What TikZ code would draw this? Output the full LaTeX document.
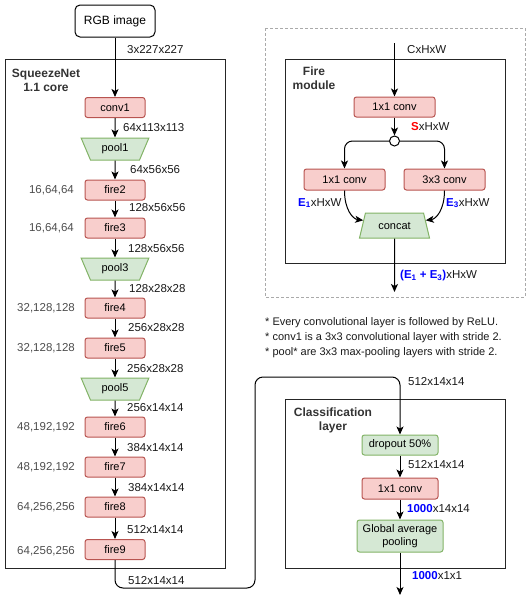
\documentclass[tikz,border=0pt]{standalone}
\usepackage{fontspec}
\setmainfont{Liberation Sans}
\usetikzlibrary{arrows.meta,shapes.geometric,calc}
\definecolor{redfill}{HTML}{F8CECC}
\definecolor{redline}{HTML}{B85450}
\definecolor{greenfill}{HTML}{D5E8D4}
\definecolor{greenline}{HTML}{82B366}
\definecolor{bluetxt}{HTML}{0000FF}
\definecolor{redtxt}{HTML}{FF0000}
\definecolor{titlegray}{HTML}{333333}
\definecolor{sidegray}{HTML}{4D4D4D}
\definecolor{dashgray}{HTML}{AAAAAA}
\begin{document}
\begin{tikzpicture}[x=1pt,y=-1pt,
  font=\fontsize{11}{12}\selectfont,
  redbox/.style={draw=redline, fill=redfill, line width=1pt, rounded corners=2.5pt,
    minimum width=60pt, minimum height=20pt, inner sep=0pt},
  greenbox/.style={draw=greenline, fill=greenfill, line width=1pt, rounded corners=2.5pt,
    minimum width=76pt, minimum height=20pt, inner sep=0pt, align=center},
  pooltrap/.style={trapezium, draw=greenline, fill=greenfill, line width=1pt,
    trapezium stretches=true, minimum width=68pt, minimum height=22pt,
    trapezium angle=63.4, shape border rotate=180, inner sep=0pt},
  cattrap/.style={trapezium, draw=greenline, fill=greenfill, line width=1pt,
    trapezium stretches=true, minimum width=70pt, minimum height=25pt,
    trapezium angle=65.3, inner sep=0pt},
  frame/.style={draw=black!85, line width=1pt},
  arr/.style={draw=black, line width=1pt, -{Stealth[length=8pt,width=7pt,inset=2pt]}},
  lbl/.style={anchor=west, inner sep=0pt, font=\fontsize{11.5}{13}\selectfont, text=black!90},
  side/.style={anchor=east, inner sep=0pt, font=\fontsize{11.5}{13}\selectfont, text=sidegray},
  ttl/.style={inner sep=0pt, align=center, font=\fontsize{12}{14}\selectfont\bfseries, text=titlegray},
]
\useasboundingbox (0,0) rectangle (530,600);

% ---------------- SqueezeNet core ----------------
\node[draw=black, line width=1pt, rounded corners=5pt, minimum width=80pt, minimum height=32pt, inner sep=0pt,
  font=\fontsize{12}{13}\selectfont] (rgb) at (115,21) {RGB image};
\draw[frame] (5,59) rectangle (225,568);
\node[ttl] (sqtitle) at (46,80) {SqueezeNet\\1.1 core};

\node[redbox] (conv1) at (115,107.5) {conv1};
\node[pooltrap] (pool1) at (115,149) {pool1};
\node[redbox] (fire2) at (115,190) {fire2};
\node[redbox] (fire3) at (115,228) {fire3};
\node[pooltrap] (pool3) at (115,269) {pool3};
\node[redbox] (fire4) at (115,308) {fire4};
\node[redbox] (fire5) at (115,348) {fire5};
\node[pooltrap] (pool5) at (115,389) {pool5};
\node[redbox] (fire6) at (115,427) {fire6};
\node[redbox] (fire7) at (115,467) {fire7};
\node[redbox] (fire8) at (115,507) {fire8};
\node[redbox] (fire9) at (115,549.5) {fire9};

\draw[arr] (rgb) -- (conv1);
\draw[arr] (conv1) -- (pool1);
\draw[arr] (pool1) -- (fire2);
\draw[arr] (fire2) -- (fire3);
\draw[arr] (fire3) -- (pool3);
\draw[arr] (pool3) -- (fire4);
\draw[arr] (fire4) -- (fire5);
\draw[arr] (fire5) -- (pool5);
\draw[arr] (pool5) -- (fire6);
\draw[arr] (fire6) -- (fire7);
\draw[arr] (fire7) -- (fire8);
\draw[arr] (fire8) -- (fire9);

\node[lbl] (l0) at (127,50) {3x227x227};
\node[lbl] (l1) at (123,128) {64x113x113};
\node[lbl] (l2) at (130,170) {64x56x56};
\node[lbl] (l3) at (129,208) {128x56x56};
\node[lbl] (l4) at (128,249) {128x56x56};
\node[lbl] (l5) at (129,289) {128x28x28};
\node[lbl] (l6) at (128,328) {256x28x28};
\node[lbl] (l7) at (127,369) {256x28x28};
\node[lbl] (l8) at (127,408) {256x14x14};
\node[lbl] (l9) at (127,448) {384x14x14};
\node[lbl] (l10) at (128,488) {384x14x14};
\node[lbl] (l11) at (127,530) {512x14x14};

\node[side] (s2) at (74,190) {16,64,64};
\node[side] (s3) at (74,228) {16,64,64};
\node[side] (s4) at (75,308) {32,128,128};
\node[side] (s5) at (75,348) {32,128,128};
\node[side] (s6) at (75,427) {48,192,192};
\node[side] (s7) at (75,467) {48,192,192};
\node[side] (s8) at (75,507) {64,256,256};
\node[side] (s9) at (75,551) {64,256,256};

% ---------------- Fire module ----------------
\draw[draw=dashgray, line width=0.9pt, dash pattern=on 3pt off 2pt] (265,28) rectangle (525,297);
\draw[frame] (285,59) rectangle (505,263);
\node[ttl] (fmtitle) at (314,78) {Fire\\module};
\coordinate (fmin) at (394.5,43);
\node[redbox, minimum width=81pt] (sq) at (394.5,107) {1x1 conv};
\node[circle, draw=black, line width=1pt, fill=white, minimum size=10pt, inner sep=0pt] (split) at (394.5,141) {};
\node[redbox, minimum width=81pt, minimum height=21pt] (e1) at (344.5,179.5) {1x1 conv};
\node[redbox, minimum width=81pt, minimum height=21pt] (e3) at (444.5,179.5) {3x3 conv};
\node[cattrap] (concat) at (394.5,225.5) {concat};
\coordinate (fmout) at (394.5,292);

\draw[arr] (fmin) -- (sq);
\draw[arr] (sq) -- (split);
\draw[arr, rounded corners=8pt] (split.west) -| (e1.north);
\draw[arr, rounded corners=8pt] (split.east) -| (e3.north);
\coordinate (catl) at ($(concat.top left corner)!0.3!(concat.bottom left corner)$);
\coordinate (catr) at ($(concat.top right corner)!0.3!(concat.bottom right corner)$);
\draw[arr] (e1.south) .. controls (344.5,210) and (353,219) .. (catl);
\draw[arr] (e3.south) .. controls (444.5,210) and (436,219) .. (catr);
\draw[arr] (concat) -- (fmout);

\node[lbl] (fl0) at (407,50) {CxHxW};
\node[lbl] (fl1) at (411,127) {\textcolor{redtxt}{\bfseries S}xHxW};
\node[lbl] (fl2) at (298,203) {\textcolor{bluetxt}{\bfseries E\textsubscript{1}}xHxW};
\node[lbl] (fl3) at (446,203) {\textcolor{bluetxt}{\bfseries E\textsubscript{3}}xHxW};
\node[lbl] (fl4) at (400,276) {\textcolor{bluetxt}{\bfseries (E\textsubscript{1} + E\textsubscript{3})}xHxW};

% ---------------- Notes ----------------
\node[anchor=west, align=left, inner sep=0pt, font=\fontsize{11}{15}\selectfont, text=black!90] (notes) at (265,338)
  {* Every convolutional layer is followed by ReLU.\\
   * conv1 is a 3x3 convolutional layer with stride 2.\\
   * pool* are 3x3 max-pooling layers with stride 2.};

% ---------------- Classification layer ----------------
\draw[frame] (285,399) rectangle (505,568);
\node[ttl] (cltitle) at (333,420) {Classification\\layer};
\node[greenbox] (drop) at (400,445) {dropout 50\%};
\node[redbox, minimum width=76pt, minimum height=21pt] (clconv) at (400,488.5) {1x1 conv};
\node[greenbox, minimum width=86pt, minimum height=32pt, font=\fontsize{11}{13}\selectfont] (gap) at (400,536) {Global average\\pooling};
\coordinate (clout) at (400,595);

\draw[arr, rounded corners=8pt] (fire9.south) |- (255,588) -- (255,377) -| (drop.north);
\draw[arr] (drop) -- (clconv);
\draw[arr] (clconv) -- (gap);
\draw[arr] (gap) -- (clout);

\node[lbl] (cl0) at (128,581) {512x14x14};
\node[lbl] (cl1) at (408,382) {512x14x14};
\node[lbl] (cl2) at (408,465) {512x14x14};
\node[lbl] (cl3) at (407,509) {\textcolor{bluetxt}{\bfseries 1000}x14x14};
\node[lbl] (cl4) at (412,576) {\textcolor{bluetxt}{\bfseries 1000}x1x1};
\end{tikzpicture}
\end{document}
